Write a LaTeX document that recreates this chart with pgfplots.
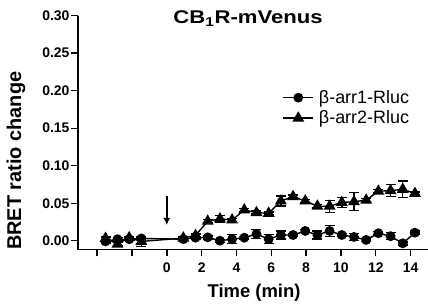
\documentclass[border=0pt]{standalone}
\usepackage{pgfplots}
\pgfplotsset{compat=1.18}
\usepackage{pgfplotstable}
\usetikzlibrary{arrows.meta}
\usepackage{fontspec}
\setmainfont{Liberation Sans}

\pgfplotstableread{
t y e
-3.52 -0.001 0.002
-2.83 0.002 0.002
-2.16 0.002 0.002
-1.46 0.003 0.002
0.95 0.002 0.002
1.65 0.004 0.002
2.35 0.0045 0.002
3.05 0.000 0.002
3.75 0.002 0.006
4.45 0.004 0.002
5.15 0.009 0.006
5.85 0.002 0.006
6.55 0.0076 0.0055
7.25 0.0076 0.002
7.95 0.013 0.002
8.65 0.0076 0.0055
9.35 0.013 0.0073
10.05 0.0076 0.002
10.75 0.005 0.0045
11.45 0.001 0.002
12.15 0.010 0.002
12.85 0.006 0.0047
13.55 -0.0035 0.002
14.25 0.0107 0.002
}\arrone

\pgfplotstableread{
t y e
-3.52 0.003 0.002
-2.83 -0.0045 0.002
-2.16 0.004 0.002
-1.46 -0.001 0.007
0.95 0.0035 0.002
1.65 0.007 0.002
2.35 0.026 0.002
3.05 0.029 0.005
3.75 0.0276 0.002
4.45 0.041 0.002
5.15 0.0374 0.002
5.85 0.0365 0.002
6.55 0.053 0.0067
7.25 0.0587 0.002
7.95 0.053 0.002
8.65 0.046 0.002
9.35 0.046 0.008
10.05 0.051 0.007
10.75 0.052 0.012
11.45 0.054 0.002
12.15 0.066 0.002
12.85 0.0667 0.008
13.55 0.0685 0.011
14.25 0.063 0.002
}\arrtwo

\begin{document}
\begin{tikzpicture}
\begin{axis}[
  scale only axis,
  width=350bp, height=234bp,
  xmin=-5.1, xmax=15,
  ymin=-0.012, ymax=0.30,
  axis lines=left,
  axis line style={line width=1.4pt, -},
  every tick/.style={line width=1.4pt, black},
  tick align=outside,
  major tick length=6.5bp,
  xtick={-4,-2,0,2,4,6,8,10,12,14},
  xticklabels={,,0,2,4,6,8,10,12,14},
  ytick={0,0.05,0.10,0.15,0.20,0.25,0.30},
  yticklabel style={xshift=1.5bp, /pgf/number format/.cd, fixed, fixed zerofill, precision=2},
  /pgf/number format/assume math mode=true,
  tick label style={font=\bfseries\fontsize{14}{14}\selectfont},
  xticklabel style={yshift=-3.5bp},
  xlabel={Time (min)},
  ylabel={BRET ratio change},
  xlabel style={font=\bfseries\fontsize{18.5}{18.5}\selectfont, at={(axis description cs:0.503,0)}, anchor=center, yshift=-43bp},
  ylabel style={font=\bfseries\fontsize{20}{20}\selectfont, at={(axis description cs:-0.177,0.38)}, anchor=center},
  legend style={at={(0.584,0.69)}, anchor=north west, draw=none, fill=none,
    font=\fontsize{18}{18}\selectfont, row sep=2bp, inner sep=0pt},
  legend cell align=left,
  legend image code/.code={
    \draw[mark repeat=2, mark phase=2] plot coordinates {(0bp,0bp) (15bp,0bp) (30bp,0bp)};
    \path (33bp,0bp);
  },
  clip=false,
]
\addplot[black, line width=1.4pt, mark=*, mark size=4.2bp, mark options={solid, fill=black},
  error bars/.cd, y dir=both, y explicit,
  error bar style={line width=1.4pt, black},
  error mark options={rotate=90, mark size=5bp, line width=1.4pt, black}]
  table[x=t, y=y, y error=e] {\arrone};
\addlegendentry{β-arr1-Rluc}
\addplot[black, line width=1.4pt, mark=triangle*, mark size=5.5bp, mark options={solid, fill=black},
  error bars/.cd, y dir=both, y explicit,
  error bar style={line width=1.4pt, black},
  error mark options={rotate=90, mark size=5bp, line width=1.4pt, black}]
  table[x=t, y=y, y error=e] {\arrtwo};
\addlegendentry{β-arr2-Rluc}
\draw[-{Latex[length=7bp,width=7bp]}, line width=1.4pt] (axis cs:0,0.059) -- (axis cs:0,0.021);
\node[font=\bfseries\fontsize{18.5}{18.5}\selectfont, xscale=1.2] at (rel axis cs:0.486,1) [yshift=-2.5bp] {CB\textsubscript{1}R-mVenus};
\end{axis}
\pgfresetboundingbox
\path[use as bounding box] ([xshift=-78bp, yshift=-54.3bp]current axis.south west) rectangle ([yshift=15.7bp]current axis.north east);
\end{tikzpicture}
\end{document}
